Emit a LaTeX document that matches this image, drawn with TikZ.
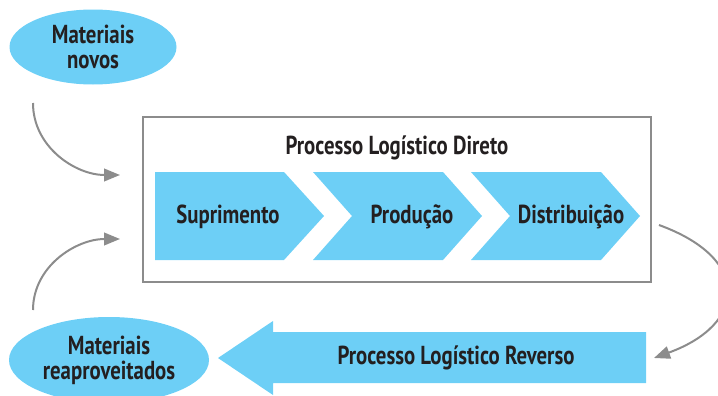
\documentclass[tikz,border=0pt]{standalone}
\usepackage{fontspec}
\setmainfont{PT Sans}[FakeStretch=0.8]
\usetikzlibrary{shapes.geometric,arrows.meta,positioning}

\definecolor{azul}{HTML}{6DCFF6}
\definecolor{cinza}{HTML}{8C8C8C}
\definecolor{texto}{HTML}{231F20}

\tikzset{
  rotulo/.style={font=\bfseries\fontsize{19.5}{18.75}\selectfont, text=texto, align=center},
  materiais/.style={ellipse, fill=azul, inner sep=0pt, rotulo},
  seta/.style={draw=cinza, line width=1.5pt, -{Triangle[length=12pt,width=9.5pt]}},
}

\begin{document}
\begin{tikzpicture}[x=0.75pt, y=0.75pt]
  \useasboundingbox (0,0) rectangle (718,-396);

  % Materials in and out
  \node[materiais, minimum width=125.25pt, minimum height=56.25pt] (novos) at (93,-47) {Materiais\\novos};
  \node[materiais, minimum width=150pt, minimum height=64.5pt] (reaproveitados) at (109,-360) {Materiais\\reaproveitados};

  % Direct flow: frame and title
  \node[draw=cinza, line width=1.5pt, minimum width=381pt, minimum height=123.75pt] (direto) at (397,-199.5) {};
  \node[rotulo] (tituloDireto) at (397,-148) {Processo Logístico Direto};

  % Stages as chevrons (first one has a flat back)
  \fill[azul] (155,-172) -- (284,-172) -- (324,-216) -- (284,-260) -- (155,-260) -- cycle;
  \foreach \x in {313,471}
    \fill[azul] (\x,-172) -- +(130,0) -- +(169,-44) -- +(130,-88) -- +(0,-88) -- +(39,-44) -- cycle;
  \node[rotulo] (suprimento) at (228,-217) {Suprimento};
  \node[rotulo] (producao) at (412,-217) {Produção};
  \node[rotulo] (distribuicao) at (571,-217) {Distribuição};

  % Reverse flow arrow
  \fill[azul] (218,-358) -- (273,-321) -- (273,-332) -- (646,-332) -- (646,-383)
    -- (273,-383) -- (273,-395) -- cycle;
  \node[rotulo] (reverso) at (456,-358) {Processo Logístico Reverso};

  % Curved connectors
  \coordinate (saiNovos) at (33,-103);
  \coordinate (entraNovos) at (120,-175);
  \coordinate (saiReap) at (33,-310);
  \coordinate (entraReap) at (120,-239);
  \coordinate (saiDireto) at (659,-225);
  \coordinate (entraReverso) at (654,-358);

  \draw[seta] (saiNovos) to[out=-90, in=180] (entraNovos);
  \draw[seta] (saiReap) to[out=90, in=180] (entraReap);
  \draw[seta] (saiDireto) to[out=-20, in=20, looseness=1.9] (entraReverso);
\end{tikzpicture}
\end{document}
